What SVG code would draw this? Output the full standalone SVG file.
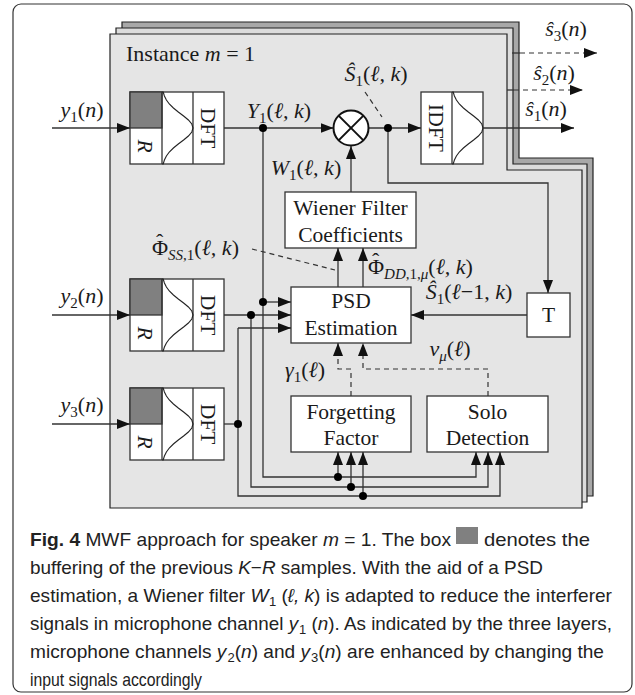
<svg xmlns="http://www.w3.org/2000/svg" xmlns:xlink="http://www.w3.org/1999/xlink" width="635" height="695" viewBox="0 0 635 695">
<style>
.ln{fill:none;stroke:#333;stroke-width:1.3}
.arr{marker-end:url(#ah)}
.dash{fill:none;stroke:#333;stroke-width:1.2;stroke-dasharray:5 4}
.box{fill:#fff;stroke:#333;stroke-width:1.3}
.gray{fill:#808080;stroke:#333;stroke-width:1.3}
.bell{fill:none;stroke:#222;stroke-width:1.1}
.dot{fill:#000}
.t{font-family:"Liberation Serif",serif;font-size:21.5px;fill:#1a1a1a;text-anchor:middle}
.m{font-family:"Liberation Serif",serif;font-size:22px;fill:#1a1a1a}
.i{font-style:italic}
.s{font-size:15px}
.cap{font-family:"Liberation Sans",Arial,sans-serif;font-size:19px;fill:#222}
.lay{stroke:#222;stroke-width:1.2}
</style>
<defs>
<marker id="ah" viewBox="0 0 13 10" refX="13" refY="5" markerWidth="13" markerHeight="10" orient="auto" markerUnits="userSpaceOnUse"><path d="M0,0 L13,5 L0,10 z" fill="#111"/></marker>
<path id="bell" class="bell" d="M0.2,-36 L1.2,-36 2.4,-32 4.4,-28 7.3,-24 11.4,-20 16.3,-16 21.6,-12 26.4,-8 29.8,-4 31,0 29.8,4 26.4,8 21.6,12 16.3,16 11.4,20 7.3,24 4.4,28 2.4,32 1.2,36 0.2,36"/>
</defs>

<g id="frame"><rect x="13" y="4" width="619" height="688" rx="8" fill="#fff" stroke="#333" stroke-width="1.2"/></g>

<g id="layers">
<polygon class="lay" fill="#a8a8a8" points="122,22 519,22 519,158 593,158 593,496 122,496"/>
<polygon class="lay" fill="#dcdcdc" points="116,28 513,28 513,164 587,164 587,502 116,502"/>
<polygon class="lay" fill="#e5e5e5" points="110,34 507,34 507,170 582,170 582,508 110,508"/>
<text class="m" x="126" y="61">Instance <tspan class="i">m</tspan> = 1</text>
</g>

<g id="dft1">
<rect class="box" x="130" y="92" width="94" height="72"/>
<rect class="gray" x="130" y="92" width="32" height="36"/>
<line class="ln" x1="162" y1="92" x2="162" y2="164"/>
<line class="ln" x1="193" y1="92" x2="193" y2="164"/>
<use xlink:href="#bell" x="162" y="128"/>
<text class="t i" transform="translate(146,146) rotate(90)" dy="0.35em">R</text>
<text class="t" transform="translate(208.5,128) rotate(90)" dy="0.35em">DFT</text>
</g>
<g id="dft2">
<rect class="box" x="130" y="279" width="94" height="72"/>
<rect class="gray" x="130" y="279" width="32" height="36"/>
<line class="ln" x1="162" y1="279" x2="162" y2="351"/>
<line class="ln" x1="193" y1="279" x2="193" y2="351"/>
<use xlink:href="#bell" x="162" y="315"/>
<text class="t i" transform="translate(146,333) rotate(90)" dy="0.35em">R</text>
<text class="t" transform="translate(208.5,315) rotate(90)" dy="0.35em">DFT</text>
</g>
<g id="dft3">
<rect class="box" x="130" y="388" width="94" height="72"/>
<rect class="gray" x="130" y="388" width="32" height="36"/>
<line class="ln" x1="162" y1="388" x2="162" y2="460"/>
<line class="ln" x1="193" y1="388" x2="193" y2="460"/>
<use xlink:href="#bell" x="162" y="424"/>
<text class="t i" transform="translate(146,442) rotate(90)" dy="0.35em">R</text>
<text class="t" transform="translate(208.5,424) rotate(90)" dy="0.35em">DFT</text>
</g>

<g id="idft">
<rect class="box" x="421" y="92" width="62" height="72"/>
<line class="ln" x1="452" y1="92" x2="452" y2="164"/>
<use xlink:href="#bell" x="452" y="128"/>
<text class="t" transform="translate(436.5,128) rotate(90)" dy="0.35em">IDFT</text>
</g>

<g id="wiener">
<rect class="box" x="285" y="192" width="131" height="56"/>
<text class="t" x="350.5" y="215">Wiener Filter</text>
<text class="t" x="350.5" y="242">Coefficients</text>
</g>
<g id="psd">
<rect class="box" x="291" y="287" width="120" height="56"/>
<text class="t" x="351" y="308">PSD</text>
<text class="t" x="351" y="335">Estimation</text>
</g>
<g id="tdelay">
<rect class="box" x="527" y="293" width="43" height="44"/>
<text class="t" x="548.5" y="322">T</text>
</g>
<g id="forget">
<rect class="box" x="291" y="396" width="120" height="56"/>
<text class="t" x="351" y="419">Forgetting</text>
<text class="t" x="351" y="445">Factor</text>
</g>
<g id="solo">
<rect class="box" x="427" y="396" width="121" height="56"/>
<text class="t" x="487.5" y="419">Solo</text>
<text class="t" x="487.5" y="445">Detection</text>
</g>

<g id="connectors">
<line class="ln arr" x1="52" y1="128" x2="130" y2="128"/>
<line class="ln arr" x1="52" y1="315" x2="130" y2="315"/>
<line class="ln arr" x1="52" y1="424" x2="130" y2="424"/>
<line class="ln arr" x1="224" y1="128" x2="333.5" y2="128"/>
<line class="ln arr" x1="368.5" y1="128" x2="421" y2="128"/>
<line class="ln arr" x1="483" y1="128" x2="574" y2="128"/>
<line class="ln" x1="507" y1="90" x2="514" y2="90"/>
<line class="dash arr" x1="514" y1="90" x2="583" y2="90"/>
<line class="ln" x1="512" y1="53" x2="520" y2="53"/>
<line class="dash arr" x1="520" y1="53" x2="597" y2="53"/>
<line class="ln arr" x1="351" y1="192" x2="351" y2="146"/>
<line class="ln arr" x1="338" y1="287" x2="338" y2="248"/>
<line class="ln arr" x1="363" y1="287" x2="363" y2="248"/>
<polyline class="ln arr" points="263,128 263,477 476,477 476,452"/>
<line class="ln arr" x1="263" y1="302" x2="291" y2="302"/>
<line class="ln arr" x1="338" y1="477" x2="338" y2="452"/>
<line class="ln arr" x1="224" y1="315" x2="291" y2="315"/>
<polyline class="ln arr" points="251,315 251,487 488,487 488,452"/>
<line class="ln arr" x1="351" y1="487" x2="351" y2="452"/>
<line class="ln" x1="224" y1="424" x2="238" y2="424"/>
<polyline class="ln arr" points="238,328 238,496 500,496 500,452"/>
<line class="ln arr" x1="238" y1="328" x2="291" y2="328"/>
<line class="ln arr" x1="363" y1="496" x2="363" y2="452"/>
<polyline class="ln arr" points="388,128 388,183 548,183 548,293"/>
<line class="ln arr" x1="527" y1="315" x2="411" y2="315"/>
<polyline class="dash arr" points="351,396 351,369 338,369 338,343"/>
<polyline class="dash arr" points="488,396 488,369 363,369 363,343"/>
<line class="dash" x1="252" y1="249" x2="335" y2="270"/>
<line class="dash" x1="365" y1="92" x2="382" y2="117"/>
<circle class="dot" cx="263" cy="128" r="4"/>
<circle class="dot" cx="263" cy="302" r="4"/>
<circle class="dot" cx="251" cy="315" r="4"/>
<circle class="dot" cx="238" cy="424" r="4"/>
<circle class="dot" cx="388" cy="128" r="4"/>
<circle class="dot" cx="338" cy="477" r="4"/>
<circle class="dot" cx="351" cy="487" r="4"/>
<circle class="dot" cx="363" cy="496" r="4"/>
</g>

<g id="mult">
<circle cx="351" cy="128" r="17.5" fill="#fff" stroke="#111" stroke-width="2"/>
<line x1="338.6" y1="115.6" x2="363.4" y2="140.4" stroke="#111" stroke-width="2"/>
<line x1="363.4" y1="115.6" x2="338.6" y2="140.4" stroke="#111" stroke-width="2"/>
</g>

<g id="labels">
<text class="m" x="82" y="117" text-anchor="middle"><tspan class="i">y</tspan><tspan class="s" dy="5">1</tspan><tspan dy="-5">(</tspan><tspan class="i">n</tspan>)</text>
<text class="m" x="82" y="303" text-anchor="middle"><tspan class="i">y</tspan><tspan class="s" dy="5">2</tspan><tspan dy="-5">(</tspan><tspan class="i">n</tspan>)</text>
<text class="m" x="82" y="412" text-anchor="middle"><tspan class="i">y</tspan><tspan class="s" dy="5">3</tspan><tspan dy="-5">(</tspan><tspan class="i">n</tspan>)</text>
<text class="m" x="279" y="118" text-anchor="middle"><tspan class="i">Y</tspan><tspan class="s" dy="5">1</tspan><tspan dy="-5">(</tspan><tspan class="i">ℓ, k</tspan>)</text>
<text class="m" x="306" y="175" text-anchor="middle"><tspan class="i">W</tspan><tspan class="s" dy="5">1</tspan><tspan dy="-5">(</tspan><tspan class="i">ℓ, k</tspan>)</text>
<text class="m" x="376" y="81" text-anchor="middle"><tspan class="i">Ŝ</tspan><tspan class="s" dy="5">1</tspan><tspan dy="-5">(</tspan><tspan class="i">ℓ, k</tspan>)</text>
<text class="m" x="566" y="36" text-anchor="middle"><tspan class="i">ŝ</tspan><tspan class="s" dy="5">3</tspan><tspan dy="-5">(</tspan><tspan class="i">n</tspan>)</text>
<text class="m" x="554" y="80" text-anchor="middle"><tspan class="i">ŝ</tspan><tspan class="s" dy="5">2</tspan><tspan dy="-5">(</tspan><tspan class="i">n</tspan>)</text>
<text class="m" x="546" y="116" text-anchor="middle"><tspan class="i">ŝ</tspan><tspan class="s" dy="5">1</tspan><tspan dy="-5">(</tspan><tspan class="i">n</tspan>)</text>
<text class="m" x="152" y="255">Φ<tspan dx="-12" dy="-6">ˆ</tspan><tspan class="s" dx="4.7" dy="11"><tspan class="i">SS</tspan>,1</tspan><tspan dy="-5">(</tspan><tspan class="i">ℓ, k</tspan>)</text>
<text class="m" x="368" y="274">Φ<tspan dx="-12" dy="-6">ˆ</tspan><tspan class="s" dx="4.7" dy="11"><tspan class="i">DD</tspan>,1,<tspan class="i">μ</tspan></tspan><tspan dy="-5">(</tspan><tspan class="i">ℓ, k</tspan>)</text>
<text class="m" x="469" y="299" text-anchor="middle"><tspan class="i">Ŝ</tspan><tspan class="s" dy="5">1</tspan><tspan dy="-5">(</tspan><tspan class="i">ℓ</tspan>−1, <tspan class="i">k</tspan>)</text>
<text class="m" x="305" y="377" text-anchor="middle"><tspan class="i">γ</tspan><tspan class="s" dy="5">1</tspan><tspan dy="-5">(</tspan><tspan class="i">ℓ</tspan>)</text>
<text class="m" x="450" y="356" text-anchor="middle"><tspan class="i">ν</tspan><tspan class="s i" dy="5">μ</tspan><tspan dy="-5">(</tspan><tspan class="i">ℓ</tspan>)</text>
</g>

<g id="caption">
<text class="cap" x="30" y="546" textLength="421" lengthAdjust="spacingAndGlyphs"><tspan font-weight="bold">Fig. 4</tspan> MWF approach for speaker <tspan class="i">m</tspan> = 1. The box</text>
<rect x="456" y="527" width="22" height="17" fill="#808080"/>
<text class="cap" x="484" y="546" textLength="106" lengthAdjust="spacingAndGlyphs">denotes the</text>
<text class="cap" x="30" y="574" textLength="513" lengthAdjust="spacingAndGlyphs">buffering of the previous <tspan class="i">K</tspan>−<tspan class="i">R</tspan> samples. With the aid of a PSD</text>
<text class="cap" x="30" y="602" textLength="582" lengthAdjust="spacingAndGlyphs">estimation, a Wiener filter <tspan class="i">W</tspan><tspan font-size="13" dx="0.5" dy="4">1</tspan><tspan dy="-4"> (</tspan><tspan class="i">ℓ, k</tspan>) is adapted to reduce the interferer</text>
<text class="cap" x="30" y="630" textLength="582" lengthAdjust="spacingAndGlyphs">signals in microphone channel <tspan class="i">y</tspan><tspan font-size="13" dx="1" dy="4">1</tspan><tspan dy="-4"> (</tspan><tspan class="i">n</tspan>). As indicated by the three layers,</text>
<text class="cap" x="30" y="658" textLength="574" lengthAdjust="spacingAndGlyphs">microphone channels <tspan class="i">y</tspan><tspan font-size="13" dx="1" dy="4">2</tspan><tspan dy="-4">(</tspan><tspan class="i">n</tspan>) and <tspan class="i">y</tspan><tspan font-size="13" dx="1" dy="4">3</tspan><tspan dy="-4">(</tspan><tspan class="i">n</tspan>) are enhanced by changing the</text>
<text class="cap" x="30" y="686" textLength="172" lengthAdjust="spacingAndGlyphs">input signals accordingly</text>
</g>
</svg>
